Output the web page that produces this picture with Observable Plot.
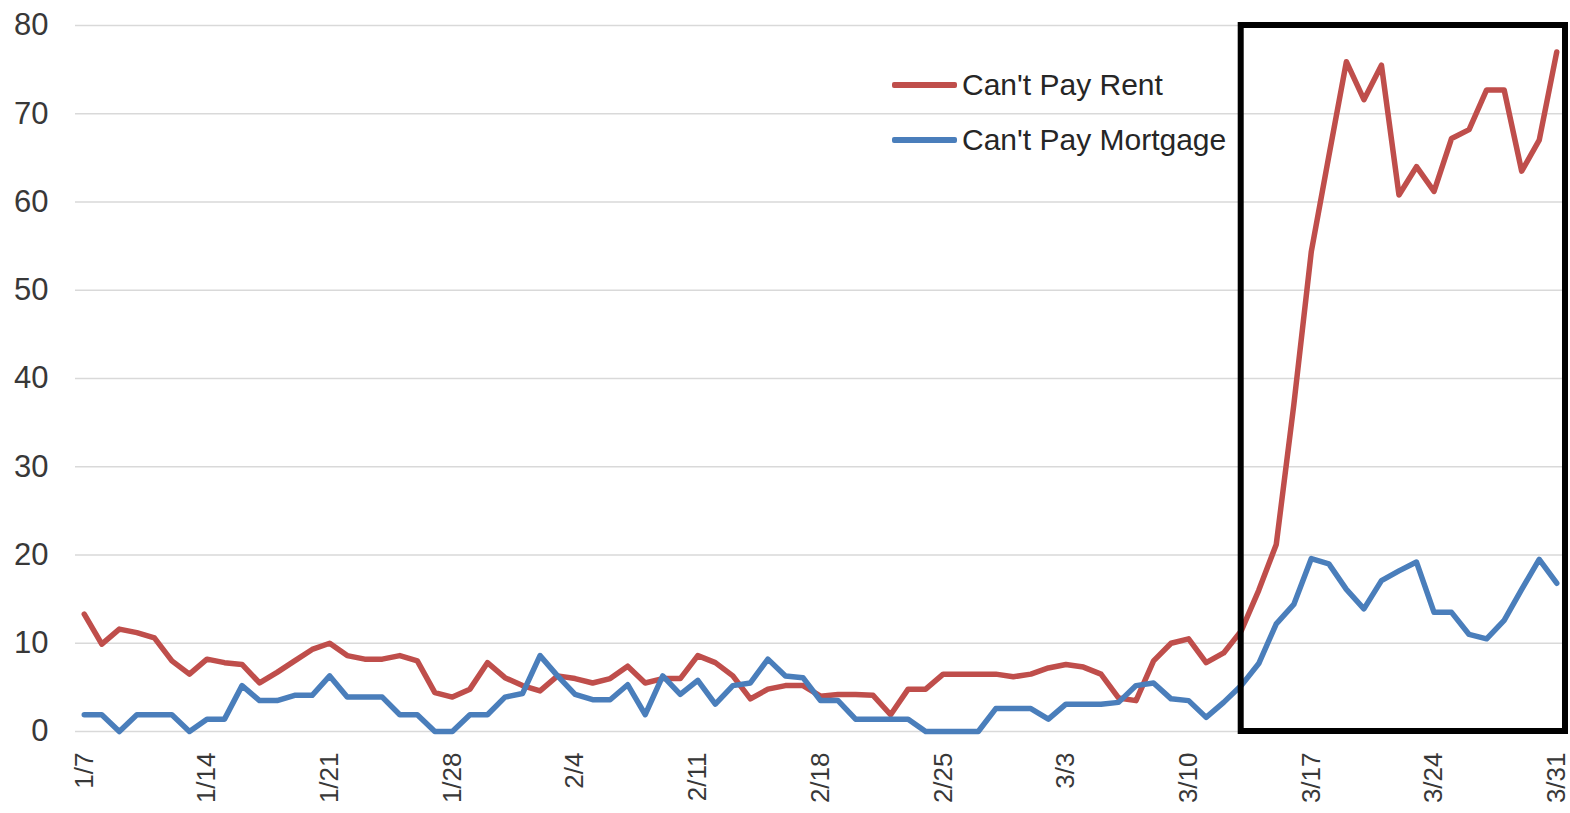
<!DOCTYPE html>
<html>
<head>
<meta charset="utf-8">
<script src="https://cdn.jsdelivr.net/npm/d3@7"></script>
<script src="https://cdn.jsdelivr.net/npm/@observablehq/plot@0.6"></script>
<style>
  html, body { margin: 0; padding: 0; background: #fff; }
  #wrap { position: relative; width: 1570px; height: 813px; font-family: "Liberation Sans", Arial, sans-serif; }
  #legend { position: absolute; left: 892px; top: 0; }
  .row { position: absolute; left: 0; display: flex; align-items: center; white-space: nowrap; font-size: 30px; color: #262626; height: 40px; }
  .sw { width: 65px; height: 5.5px; margin-right: 5px; border-radius: 2px; }
</style>
</head>
<body>
<div id="wrap"></div>
<script>
// ---- data ----
const startDate = "2020-01-07";
const endDate = "2020-03-31";
const seriesNames = ["Can't Pay Rent", "Can't Pay Mortgage"];
const seriesColors = ["#bf4e4b", "#4a7ebb"];
const rent = [
  13.3, 9.9, 11.6, 11.2, 10.6, 8.0, 6.5, 8.2, 7.8, 7.6,
  5.5, 6.7, 8.0, 9.3, 10.0, 8.6, 8.2, 8.2, 8.6, 8.0,
  4.4, 3.9, 4.8, 7.8, 6.1, 5.2, 4.6, 6.3, 6.0, 5.5,
  6.0, 7.4, 5.5, 6.0, 6.0, 8.6, 7.8, 6.3, 3.7, 4.8,
  5.2, 5.2, 4.0, 4.2, 4.2, 4.1, 1.9, 4.8, 4.8, 6.5,
  6.5, 6.5, 6.5, 6.2, 6.5, 7.2, 7.6, 7.3, 6.5, 3.8,
  3.5, 8.0, 10.0, 10.5, 7.8, 8.9, 11.4, 16.0, 21.2, 37.0,
  54.4, 65.2, 75.9, 71.6, 75.5, 60.8, 64.0, 61.2, 67.2, 68.2,
  72.7, 72.7, 63.5, 67.0, 77.0
];
const mortgage = [
  1.9, 1.9, 0, 1.9, 1.9, 1.9, 0, 1.4, 1.4, 5.2,
  3.5, 3.5, 4.1, 4.1, 6.3, 3.9, 3.9, 3.9, 1.9, 1.9,
  0, 0, 1.9, 1.9, 3.9, 4.3, 8.6, 6.3, 4.2, 3.6,
  3.6, 5.3, 1.9, 6.3, 4.2, 5.8, 3.1, 5.2, 5.5, 8.2,
  6.3, 6.1, 3.5, 3.5, 1.4, 1.4, 1.4, 1.4, 0, 0,
  0, 0, 2.6, 2.6, 2.6, 1.4, 3.1, 3.1, 3.1, 3.3,
  5.2, 5.5, 3.7, 3.5, 1.6, 3.3, 5.2, 7.7, 12.2, 14.4,
  19.6, 19.0, 16.1, 13.9, 17.1, 18.2, 19.2, 13.5, 13.5, 11.0,
  10.5, 12.6, 16.1, 19.5, 16.8
];
const xTickLabels = ["1/7", "1/14", "1/21", "1/28", "2/4", "2/11", "2/18", "2/25", "3/3", "3/10", "3/17", "3/24", "3/31"];
const yTicks = [0, 10, 20, 30, 40, 50, 60, 70, 80];
const highlightStart = "2020-03-13";
const highlightEnd = "2020-03-31";

// ---- build ----
const start = new Date(startDate + "T00:00Z");
const end = new Date(endDate + "T00:00Z");
const dates = d3.utcDay.range(start, d3.utcDay.offset(end, 1));
const rows = [
  ...dates.map((d, i) => ({date: d, value: rent[i], series: seriesNames[0]})),
  ...dates.map((d, i) => ({date: d, value: mortgage[i], series: seriesNames[1]}))
];
const parseTick = d3.utcParse("%Y-%m/%d");
const tickDates = xTickLabels.map(s => parseTick("2020-" + s));
const halfDay = 12 * 3600 * 1000;
const xDomain = [new Date(+start - halfDay), new Date(+end + halfDay)];

const chart = Plot.plot({
  width: 1570,
  height: 813,
  marginLeft: 75,
  marginRight: 5,
  marginTop: 25,
  marginBottom: 82,
  style: {fontFamily: "'Liberation Sans', Arial, sans-serif", background: "#fff", color: "#3a3a3a", overflow: "visible"},
  x: {type: "utc", domain: xDomain, label: null},
  y: {domain: [0, 80], label: null},
  color: {domain: seriesNames, range: seriesColors},
  marks: [
    Plot.gridY(yTicks, {stroke: "#d9d9d9", strokeOpacity: 1, strokeWidth: 1.5}),
    Plot.axisY(yTicks, {tickSize: 0, tickPadding: 27, fontSize: 31, tickFormat: d => String(d), fill: "#383838"}),
    Plot.axisX(tickDates, {tickSize: 0, tickPadding: 21, tickRotate: -90, fontSize: 26, tickFormat: d3.utcFormat("%-m/%-d"), fill: "#383838"}),
    Plot.lineY(rows, {x: "date", y: "value", z: "series", stroke: "series", strokeWidth: 5.5, strokeLinejoin: "round", strokeLinecap: "round"}),
    Plot.rect([{s: highlightStart, e: highlightEnd}], {
      x1: d => new Date(d.s + "T00:00Z"),
      x2: d => new Date(+new Date(d.e + "T00:00Z") + halfDay),
      y1: () => yTicks[0],
      y2: () => yTicks[yTicks.length - 1],
      fill: "none",
      stroke: "#000",
      strokeWidth: 6
    })
  ]
});

const wrap = document.getElementById("wrap");
wrap.appendChild(chart);

const legend = document.createElement("div");
legend.id = "legend";
seriesNames.forEach((name, i) => {
  const row = document.createElement("div");
  row.className = "row";
  row.style.top = (i === 0 ? 65 : 120) + "px";
  const sw = document.createElement("div");
  sw.className = "sw";
  sw.style.background = seriesColors[i];
  const label = document.createElement("span");
  label.textContent = name;
  row.appendChild(sw);
  row.appendChild(label);
  legend.appendChild(row);
});
wrap.appendChild(legend);
</script>
</body>
</html>
